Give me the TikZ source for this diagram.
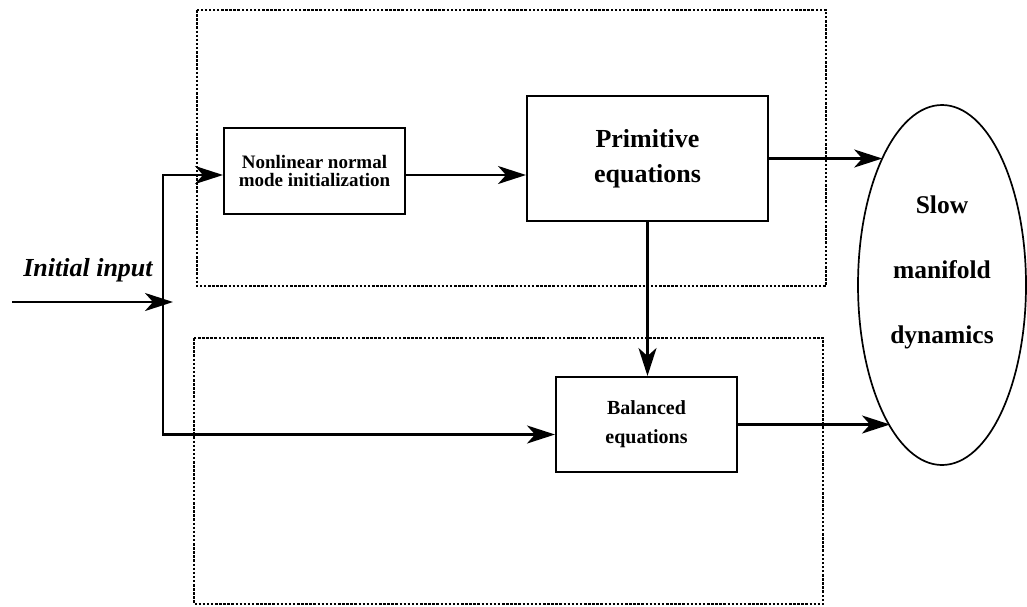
\documentclass[tikz,border=0pt]{standalone}
\usepackage{fontspec}
\setmainfont{Liberation Serif}
\usepackage{tikz}
\usetikzlibrary{arrows.meta,positioning,shapes.geometric}

\begin{document}
\begin{tikzpicture}[x=1pt, y=-1pt]
                \tikzstyle{block} = [draw, rectangle, line width=2pt, inner sep=0pt, align=center, font=\bfseries]
                \tikzstyle{group} = [line width=1.5pt, dash pattern=on 2.5pt off 1.6pt]
                \tikzstyle{flow} = [line width=2.6pt, -{Stealth[length=28pt, width=18pt, inset=8pt]}]
                \useasboundingbox (0,0) rectangle (1027,606);

                % dotted groups
                \draw [group] (197,10) rectangle (826,286);
                \draw [group] (194,338) rectangle (823,604);

                \node [block, minimum width=181pt, minimum height=86pt, font=\bfseries\fontsize{19}{18}\selectfont] (nonlinear) at (314.5,171) {Nonlinear normal\\mode initialization};
                \node [block, minimum width=241pt, minimum height=125pt, font=\bfseries\fontsize{26}{35}\selectfont] (primitive) at (647.5,158.5) {Primitive\\equations};
                \node [block, minimum width=181pt, minimum height=95pt, font=\bfseries\fontsize{20}{29}\selectfont] (balanced) at (646.5,424.5) {Balanced\\equations};
                \node [draw, ellipse, line width=1.7pt, inner sep=0pt, minimum width=168pt, minimum height=360pt] (manifold) at (942,285) {};
                \node [align=center, font=\bfseries\fontsize{25.5}{65}\selectfont] (manifold-text) at (942,272.5) {Slow\\manifold\\dynamics};

                \coordinate (input) at (12,302);
                \coordinate (tap) at (163,302);
                \node [font=\bfseries\itshape\fontsize{26}{30}\selectfont] (input-label) at (88,270) {Initial input};

                \draw [flow] (input) -- ([xshift=10pt]tap);
                \draw [flow] (tap) |- ([yshift=-4pt]nonlinear.west);
                \draw [flow] (tap) |- ([yshift=-10pt]balanced.west);
                \draw [flow] ([yshift=-4pt]nonlinear.east) -- ([yshift=-4pt]nonlinear.east -| primitive.west);
                \draw [flow] (primitive.east) -- (primitive.east -| manifold.115.5);
                \draw [flow] (primitive.south) -- (primitive.south |- balanced.north);
                \draw [flow] (balanced.east) -- (balanced.east -| manifold.250);
\end{tikzpicture}
\end{document}
